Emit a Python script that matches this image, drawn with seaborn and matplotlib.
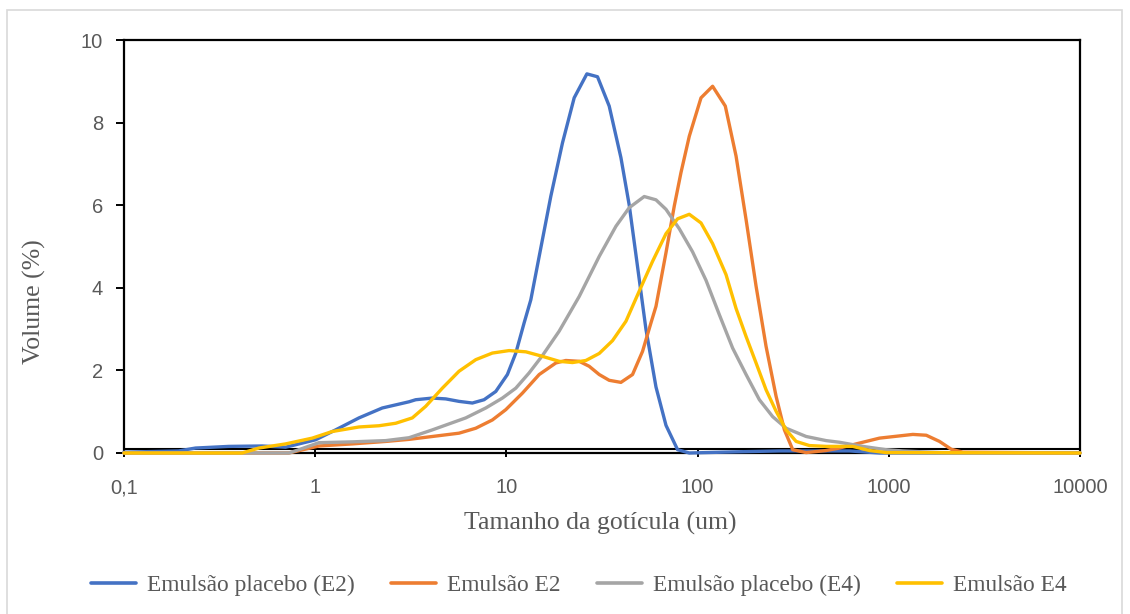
import matplotlib
matplotlib.use("Agg")
import matplotlib.pyplot as plt
from matplotlib.patches import Rectangle
import seaborn as sns
import pandas as pd

# ---- data (droplet size in um, volume %) ----
x_placebo_e2 = [0.1, 0.193, 0.2365, 0.3533, 0.528, 0.6998, 1.005, 1.279, 1.694, 2.243,
                3.095, 3.356, 4.1, 4.817, 5.654, 6.637, 7.642, 8.8, 10.12, 11.2,
                12.38, 13.42, 14.84, 17.08, 19.65, 22.62, 26.36, 29.96, 34.49, 39.72,
                43.9, 47.59, 53.67, 60.57, 68.34, 78.58, 90.48, 165.4, 267.8, 622.7,
                894.0, 10000]
y_placebo_e2 = [0.02, 0.05, 0.12, 0.16, 0.17, 0.14, 0.32, 0.56, 0.85, 1.09,
                1.24, 1.29, 1.33, 1.31, 1.25, 1.21, 1.29, 1.49, 1.90, 2.42,
                3.15, 3.71, 4.76, 6.22, 7.51, 8.60, 9.18, 9.11, 8.40, 7.15,
                6.00, 4.80, 3.00, 1.60, 0.67, 0.08, 0.0, 0.03, 0.05, 0.05,
                0.0, 0.0]

x_e2 = [0.1, 0.7285, 1.046, 1.562, 2.337, 3.095, 4.1, 5.654, 6.916, 8.446,
        9.93, 12.13, 14.84, 18.14, 20.46, 24.03, 27.1, 30.58, 34.49, 39.72,
        45.68, 51.52, 57.02, 60.57, 68.34, 75.51, 81.86, 90.48, 104.2, 119.8,
        139.6, 158.9, 179.3, 202.2, 228.1, 257.4, 284.4, 314.5, 369.4, 470.2,
        552.0, 648.0, 894.0, 1336, 1570, 1842, 2122, 2440, 10000]
y_e2 = [0.0, 0.0, 0.17, 0.22, 0.28, 0.33, 0.40, 0.48, 0.60, 0.80,
        1.05, 1.45, 1.90, 2.18, 2.24, 2.22, 2.10, 1.90, 1.76, 1.71,
        1.90, 2.46, 3.15, 3.55, 4.85, 5.98, 6.79, 7.67, 8.60, 8.88,
        8.40, 7.19, 5.65, 4.04, 2.58, 1.37, 0.56, 0.08, 0.01, 0.06,
        0.12, 0.20, 0.36, 0.45, 0.43, 0.28, 0.09, 0.02, 0.0]

x_placebo_e4 = [0.1, 0.7285, 0.8216, 1.046, 1.562, 2.337, 3.095, 4.1, 6.13, 7.801,
                9.53, 11.2, 13.15, 15.44, 18.88, 24.03, 30.58, 37.4, 43.9, 52.58,
                60.57, 68.34, 80.2, 94.15, 110.7, 129.9, 152.5, 179.3, 210.4, 247.0,
                290.3, 369.4, 470.2, 552.0, 730.9, 969.2, 1179, 2079, 10000]
y_placebo_e4 = [0.0, 0.0, 0.08, 0.25, 0.27, 0.30, 0.37, 0.56, 0.85, 1.09,
                1.33, 1.57, 1.94, 2.36, 2.95, 3.79, 4.76, 5.49, 5.94, 6.21,
                6.13, 5.90, 5.43, 4.87, 4.18, 3.35, 2.54, 1.90, 1.29, 0.88,
                0.60, 0.40, 0.30, 0.26, 0.16, 0.08, 0.05, 0.0, 0.0]

x_e4 = [0.1, 0.4148, 0.5073, 0.6998, 0.9645, 1.227, 1.694, 2.156, 2.636, 3.221,
        3.784, 4.624, 5.654, 6.916, 8.446, 10.33, 12.64, 15.44, 18.88, 22.16,
        26.04, 30.58, 35.89, 42.19, 49.52, 58.13, 68.34, 78.58, 90.48, 104.2,
        119.8, 140.8, 158.9, 179.3, 202.2, 228.1, 257.4, 290.3, 327.6, 384.4,
        470.2, 648.0, 792.5, 969.2, 10000]
y_e4 = [0.0, 0.0, 0.12, 0.22, 0.36, 0.52, 0.63, 0.66, 0.72, 0.85,
        1.13, 1.57, 1.98, 2.26, 2.42, 2.48, 2.45, 2.34, 2.22, 2.19,
        2.24, 2.41, 2.72, 3.19, 3.92, 4.64, 5.31, 5.67, 5.78, 5.57,
        5.07, 4.32, 3.50, 2.82, 2.18, 1.53, 1.01, 0.56, 0.28, 0.18,
        0.16, 0.16, 0.06, 0.01, 0.0]

series_names = ["Emulsão placebo (E2)", "Emulsão E2", "Emulsão placebo (E4)", "Emulsão E4"]
series_x = [x_placebo_e2, x_e2, x_placebo_e4, x_e4]
series_y = [y_placebo_e2, y_e2, y_placebo_e4, y_e4]
colors = ["#4472C4", "#ED7D31", "#A5A5A5", "#FFC000"]

x_ticks = [0.1, 1, 10, 100, 1000, 10000]
x_tick_labels = ["0,1", "1", "10", "100", "1000", "10000"]
y_ticks = [0, 2, 4, 6, 8, 10]
x_title = "Tamanho da gotícula (um)"
y_title = "Volume (%)"

frames = []
for name, xs, ys in zip(series_names, series_x, series_y):
    frames.append(pd.DataFrame({"size": xs, "volume": ys, "series": name}))
df = pd.concat(frames, ignore_index=True)

sns.set_theme(style="white")
plt.rcParams["font.family"] = ["Liberation Sans", "DejaVu Sans"]

fig = plt.figure(figsize=(11.3, 6.14), dpi=100)
ax = fig.add_axes([124 / 1130, 1 - 453 / 614, 956 / 1130, 413 / 614])

ax.axhline(0.1, color="black", lw=1.5, zorder=1)

sns.lineplot(data=df, x="size", y="volume", hue="series", hue_order=series_names,
             palette=colors, estimator=None, sort=False, linewidth=2.4,
             ax=ax, legend=False, zorder=3)
for ln in ax.get_lines():
    ln.set_clip_on(False)
    ln.set_solid_joinstyle("round")

ax.set_xscale("log")
ax.set_xlim(0.1, 10000)
ax.set_ylim(0, 10)
ax.set_xticks(x_ticks)
ax.set_xticklabels(x_tick_labels)
ax.minorticks_off()
ax.set_yticks(y_ticks)

for sp in ax.spines.values():
    sp.set_visible(True)
    sp.set_color("black")
    sp.set_linewidth(1.6)

ax.tick_params(axis="x", which="major", direction="inout", length=6, width=1.4,
               color="black", pad=15, labelsize=14.5, labelcolor="#595959", bottom=True)
ax.tick_params(axis="y", which="major", direction="out", length=6, width=1.4,
               color="black", pad=9, labelsize=14.5, labelcolor="#595959", left=True)

serif = ["Liberation Serif", "DejaVu Serif"]
ax.set_xlabel(x_title, fontsize=18.5, family=serif, color="#595959")
ax.set_ylabel(y_title, fontsize=18.5, family=serif, color="#595959")
ax.xaxis.set_label_coords(0.498, -0.143)
ax.yaxis.set_label_coords(-0.082, 0.366)

handles = [plt.Line2D([], [], color=c, lw=2.6) for c in colors]
leg = fig.legend(handles, series_names, loc="center", bbox_to_anchor=(0.512, 1 - 585 / 614),
                 ncol=4, frameon=False, handlelength=1.95, handletextpad=0.45,
                 columnspacing=1.55, prop={"family": serif, "size": 16.8})
for t in leg.get_texts():
    t.set_color("#595959")

fig.patches.append(Rectangle((7 / 1130, -0.01), 1115 / 1130, 1 - 10 / 614 + 0.01,
                             transform=fig.transFigure, fill=False,
                             edgecolor="#D9D9D9", linewidth=1.2))

fig.savefig("out.png", dpi=100, facecolor="white")
